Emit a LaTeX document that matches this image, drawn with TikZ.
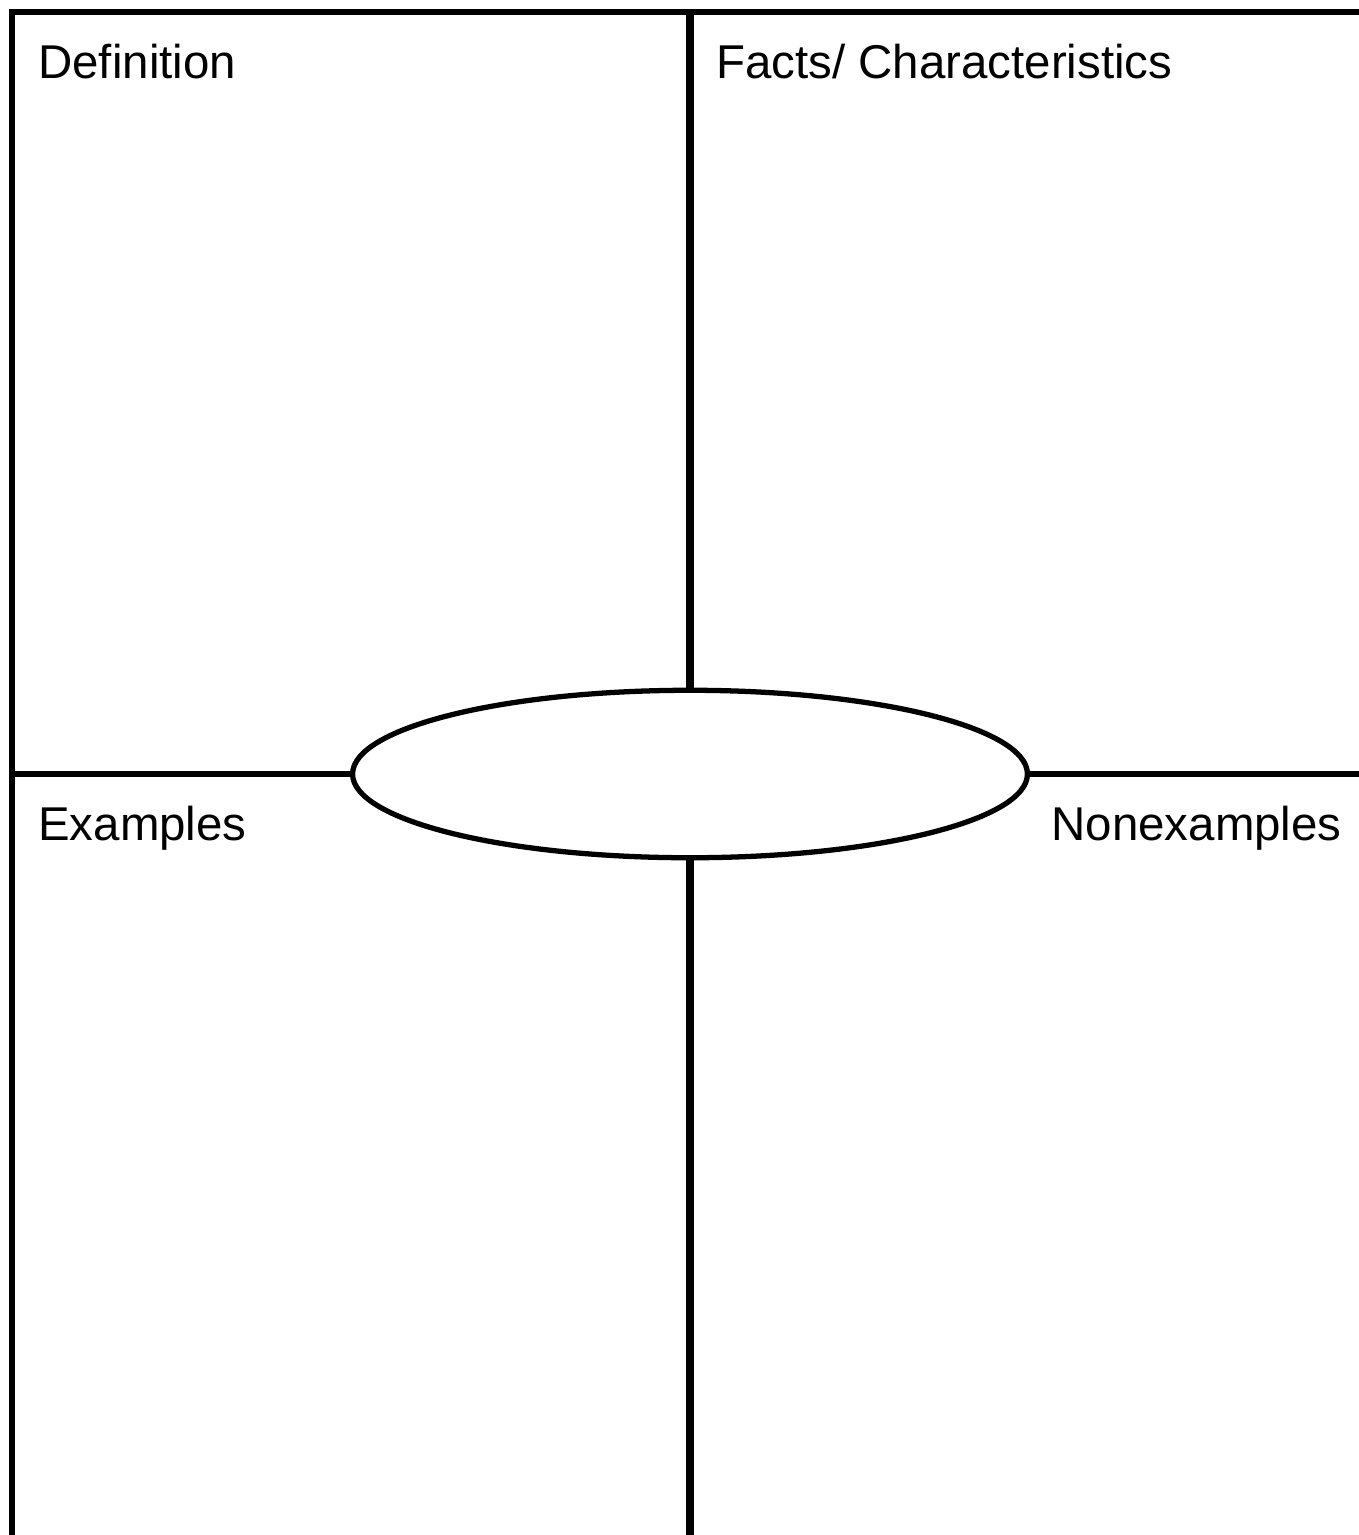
\documentclass[tikz,border=0pt]{standalone}
\usepackage{fontspec}
\setmainfont{Liberation Sans}
\usetikzlibrary{shapes.geometric, positioning}

\tikzset{
  frame/.style={line width=3.8pt},
  divider/.style={line width=4.2pt},
  topic/.style={ellipse, draw, line width=3pt, minimum width=13.5cm, minimum height=3.35cm, inner sep=0pt},
  heading/.style={inner sep=0pt, font=\fontsize{27}{32}\selectfont}
}

\begin{document}
\begin{tikzpicture}[x=0.02cm, y=-0.02cm]
  \useasboundingbox (0,0) rectangle (1359,1535);
  \draw[frame] (12,12) rectangle (1368,1540);
  \node[topic] (core) at (690,774) {};
  \coordinate (topmid) at (690,12);
  \coordinate (botmid) at (690,1540);
  \coordinate (leftmid) at (12,774);
  \coordinate (rightmid) at (1368,774);
  \draw[divider] (topmid) -- (core.north);
  \draw[divider] (core.south) -- (botmid);
  \draw[frame] (leftmid) -- (core.west);
  \draw[frame] (core.east) -- (rightmid);
  \node[heading, anchor=base west] (defn) at (38,78) {Definition};
  \node[heading, anchor=base west] (facts) at (716,78) {Facts/ Characteristics};
  \node[heading, anchor=base west] (ex) at (38,840) {Examples};
  \node[heading, anchor=base east] (nonex) at (1342,840) {Nonexamples};
\end{tikzpicture}
\end{document}
